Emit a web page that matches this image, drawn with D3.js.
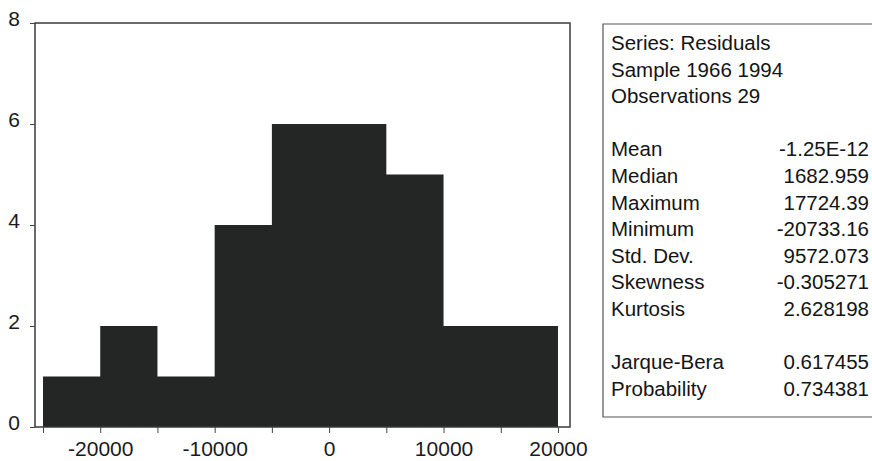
<!DOCTYPE html>
<html>
<head>
<meta charset="utf-8">
<script src="https://cdn.jsdelivr.net/npm/d3@7"></script>
<style>
    body { margin: 0; background: #fff; }
    svg { display: block; font-family: Arial, "Liberation Sans", sans-serif; }
    .axes text { fill: #1a1a1a; }
</style>
</head>
<body>
<svg id="chart" width="872" height="461"></svg>
<script>
// Histogram of residuals, bins of width 5000
const binStarts = [-25000, -20000, -15000, -10000, -5000, 0, 5000, 10000, 15000];
const binWidth = 5000;
const counts = [1, 2, 1, 4, 6, 6, 5, 2, 2];

// Axis ticks
const yTicks = [0, 2, 4, 6, 8];
const xTicks = [-25000, -20000, -15000, -10000, -5000, 0, 5000, 10000, 15000, 20000];
const xTickLabels = [-20000, -10000, 0, 10000, 20000];

// Stats panel
const headerLines = ['Series: Residuals', 'Sample 1966 1994', 'Observations 29'];
const statLabels = ['Mean', 'Median', 'Maximum', 'Minimum', 'Std. Dev.', 'Skewness', 'Kurtosis'];
const statValues = ['-1.25E-12', '1682.959', '17724.39', '-20733.16', '9572.073', '-0.305271', '2.628198'];
const testLabels = ['Jarque-Bera', 'Probability'];
const testValues = ['0.617455', '0.734381'];

const chart = d3.select('#chart');

// Plot area
const plotLeft = 35, plotRight = 570, plotTop = 23, plotBottom = 427;

const x = d3.scaleLinear()
            .domain([-25700, 21050])
            .range([plotLeft, plotRight]);
const y = d3.scaleLinear()
            .domain([0, 8])
            .range([plotBottom, plotTop]);

// Bars (drawn as one filled step path so no seams show between bins)
const steps = [[x(binStarts[0]), y(0)]];
counts.forEach((c, i) => {
    steps.push([x(binStarts[i]), y(c)]);
    steps.push([x(binStarts[i] + binWidth), y(c)]);
});
steps.push([x(binStarts[binStarts.length - 1] + binWidth), y(0)]);

chart.append('path')
    .attr('class', 'bars')
    .attr('d', d3.line()(steps) + 'Z')
    .attr('fill', '#232624')

// Frame
chart.append('rect')
    .attr('x', plotLeft)
    .attr('y', plotTop)
    .attr('width', plotRight - plotLeft)
    .attr('height', plotBottom - plotTop)
    .attr('fill', 'none')
    .attr('stroke', '#3a3a3a')
    .attr('stroke-width', 1.5)

// Y axis
const yAxis = d3.axisLeft(y)
                .tickValues(yTicks)
                .tickSize(5)
                .tickPadding(10)
                .tickFormat(d3.format('d'))
const gy = chart.append('g')
    .attr('class', 'axes')
    .attr('transform', `translate(${plotLeft}, 0)`)
    .call(yAxis)
gy.select('.domain').remove()
gy.selectAll('line').attr('stroke', '#444')
gy.selectAll('text')
    .attr('font-size', 21)
    .attr('dy', '0.1em')

// X axis
const xAxis = d3.axisBottom(x)
                .tickValues(xTicks)
                .tickSize(6)
                .tickPadding(8)
                .tickFormat(d => xTickLabels.includes(d) ? d : '')
const gx = chart.append('g')
    .attr('class', 'axes')
    .attr('transform', `translate(0, ${plotBottom})`)
    .call(xAxis)
gx.select('.domain').remove()
gx.selectAll('line').attr('stroke', '#444')
gx.selectAll('text')
    .attr('font-size', 21)

// Stats panel box (right edge runs off the picture)
const boxLeft = 603, boxTop = 24, boxBottom = 417;
chart.append('path')
    .attr('d', `M880,${boxTop} H${boxLeft} V${boxBottom} H880`)
    .attr('fill', 'none')
    .attr('stroke', '#555')
    .attr('stroke-width', 1.2)

const rowY = i => 50 + i * 26.6;
const textX = 611, valueX = 869;

const panel = chart.append('g')
    .attr('font-size', 20.5)
    .attr('fill', '#141414')

panel.selectAll('text.header')
    .data(headerLines)
    .enter()
    .append('text')
        .attr('class', 'header')
        .attr('x', textX)
        .attr('y', (d, i) => rowY(i))
        .text(d => d)

panel.selectAll('text.stat')
    .data(statLabels)
    .enter()
    .append('text')
        .attr('class', 'stat')
        .attr('x', textX)
        .attr('y', (d, i) => rowY(i + 4))
        .text(d => d)

panel.selectAll('text.statval')
    .data(statValues)
    .enter()
    .append('text')
        .attr('class', 'statval')
        .attr('x', valueX)
        .attr('y', (d, i) => rowY(i + 4))
        .attr('text-anchor', 'end')
        .text(d => d)

panel.selectAll('text.test')
    .data(testLabels)
    .enter()
    .append('text')
        .attr('class', 'test')
        .attr('x', textX)
        .attr('y', (d, i) => rowY(i + 12))
        .text(d => d)

panel.selectAll('text.testval')
    .data(testValues)
    .enter()
    .append('text')
        .attr('class', 'testval')
        .attr('x', valueX)
        .attr('y', (d, i) => rowY(i + 12))
        .attr('text-anchor', 'end')
        .text(d => d)
</script>
</body>
</html>
